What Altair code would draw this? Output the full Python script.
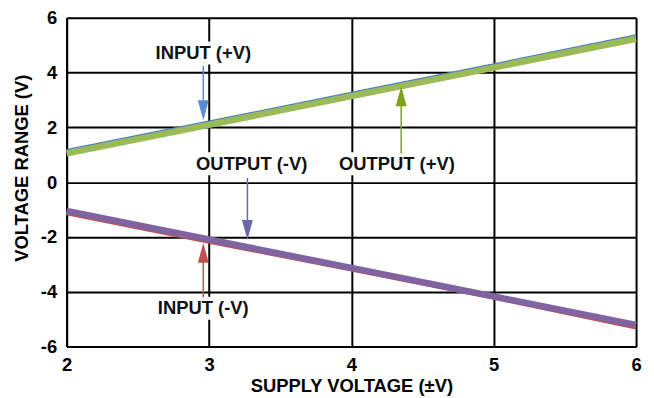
import altair as alt
import pandas as pd

# ---- data ----
supply = [2, 3, 4, 5, 6]
input_pos = [1.16, 2.20, 3.25, 4.29, 5.35]
output_pos = [1.05, 2.09, 3.14, 4.18, 5.23]
input_neg = [-1.16, -2.20, -3.22, -4.25, -5.33]
output_neg = [-1.05, -2.09, -3.13, -4.17, -5.21]

series_names = ["INPUT (+V)", "INPUT (-V)", "OUTPUT (+V)", "OUTPUT (-V)"]
series_colors = ["#4a7ebb", "#c0504d", "#9bbb59", "#8064a2"]
series_widths = [2.5, 2.5, 6.5, 6.5]

# annotation labels
label_text = ["INPUT (+V)", "OUTPUT (+V)", "OUTPUT (-V)", "INPUT (-V)"]
label_x = [2.96, 4.32, 3.30, 2.96]
label_y = [4.71, 0.67, 0.67, -4.60]
label_halfw = [0.36, 0.38, 0.40, 0.36]
label_halfh = [0.42, 0.42, 0.42, 0.42]

# arrows: x, shaft start y, head centre y, direction, colour
arrow_x = [2.96, 4.35, 3.27, 2.96]
arrow_y0 = [4.24, 1.04, 0.15, -4.20]
arrow_head = [2.62, 3.13, -1.74, -2.58]
arrow_dir = ["down", "up", "down", "up"]
arrow_color = ["#5b8bd3", "#7ca21c", "#6b6aa6", "#c0504d"]

FONT = "Liberation Sans Narrow, Arial Narrow, Liberation Sans, Arial"

series_vals = [input_pos, input_neg, output_pos, output_neg]

labels_df = pd.DataFrame({
    "text": label_text, "x": label_x, "y": label_y,
    "x1": [a - b for a, b in zip(label_x, label_halfw)],
    "x2": [a + b for a, b in zip(label_x, label_halfw)],
    "y1": [a - b for a, b in zip(label_y, label_halfh)],
    "y2": [a + b for a, b in zip(label_y, label_halfh)],
})

arrows_df = pd.DataFrame({
    "x": arrow_x, "y0": arrow_y0, "yh": arrow_head,
    "dir": arrow_dir, "color": arrow_color,
})

xs = alt.Scale(domain=[2, 6], nice=False, zero=False)
ys = alt.Scale(domain=[-6, 6], nice=False, zero=False)

FS = 18.5
xaxis = alt.Axis(values=[2, 3, 4, 5, 6], title="SUPPLY VOLTAGE (±V)", ticks=False, format="d",
                 labelPadding=9, titlePadding=3, labelFontSize=FS, titleFontSize=FS,
                 labelFontWeight="bold", titleFontWeight="bold", labelFont=FONT, titleFont=FONT,
                 labelColor="black", titleColor="black", grid=True, gridColor="black",
                 gridWidth=2, domainColor="black", domainWidth=2, labelFlush=False)
yaxis = alt.Axis(values=[-6, -4, -2, 0, 2, 4, 6], title="VOLTAGE RANGE (V)", ticks=False,
                 labelPadding=10, titlePadding=9, labelFontSize=FS, titleFontSize=FS,
                 labelFontWeight="bold", titleFontWeight="bold", labelFont=FONT, titleFont=FONT,
                 labelColor="black", titleColor="black", grid=True, gridColor="black",
                 gridWidth=2, domainColor="black", domainWidth=2, labelFlush=False,
                 labelExpr="'' + datum.value", titleY=151)

boxes = alt.Chart(labels_df).mark_rect(fill="white").encode(
    x=alt.X("x1:Q", scale=xs, axis=xaxis), x2="x2:Q",
    y=alt.Y("y1:Q", scale=ys, axis=yaxis), y2="y2:Q",
)

line_layers = []
for name, vals, col, w in zip(series_names, series_vals, series_colors, series_widths):
    df = pd.DataFrame({"x": supply, "y": vals, "series": name})
    line_layers.append(
        alt.Chart(df).mark_line(color=col, strokeWidth=w, strokeCap="butt").encode(
            x=alt.X("x:Q", scale=xs), y=alt.Y("y:Q", scale=ys)
        )
    )

shafts = alt.Chart(arrows_df).mark_rule(strokeWidth=1.5).encode(
    x=alt.X("x:Q", scale=xs), y=alt.Y("y0:Q", scale=ys), y2="yh:Q",
    color=alt.Color("color:N", scale=None),
)
heads_down = alt.Chart(arrows_df).transform_filter("datum.dir == 'down'").mark_point(
    shape="M-0.55,-1L0.55,-1L0,1Z", filled=True, size=400, opacity=1, strokeWidth=0
).encode(x=alt.X("x:Q", scale=xs), y=alt.Y("yh:Q", scale=ys), color=alt.Color("color:N", scale=None))
heads_up = alt.Chart(arrows_df).transform_filter("datum.dir == 'up'").mark_point(
    shape="M-0.55,1L0.55,1L0,-1Z", filled=True, size=400, opacity=1, strokeWidth=0
).encode(x=alt.X("x:Q", scale=xs), y=alt.Y("yh:Q", scale=ys), color=alt.Color("color:N", scale=None))

texts = alt.Chart(labels_df).mark_text(
    font=FONT, fontSize=FS, fontWeight="bold", color="#111111", baseline="middle", align="center"
).encode(x=alt.X("x:Q", scale=xs), y=alt.Y("y:Q", scale=ys), text="text:N")

chart = alt.layer(boxes, *line_layers, shafts, heads_down, heads_up, texts).properties(
    width=573, height=331,
    autosize=alt.AutoSizeParams(type="none"),
    padding={"left": 59, "top": 8.5, "right": 10, "bottom": 50},
).configure_view(stroke="black", strokeWidth=2).configure(background="white")

chart.save("out.html", embed_options={"renderer": "svg", "actions": False})
